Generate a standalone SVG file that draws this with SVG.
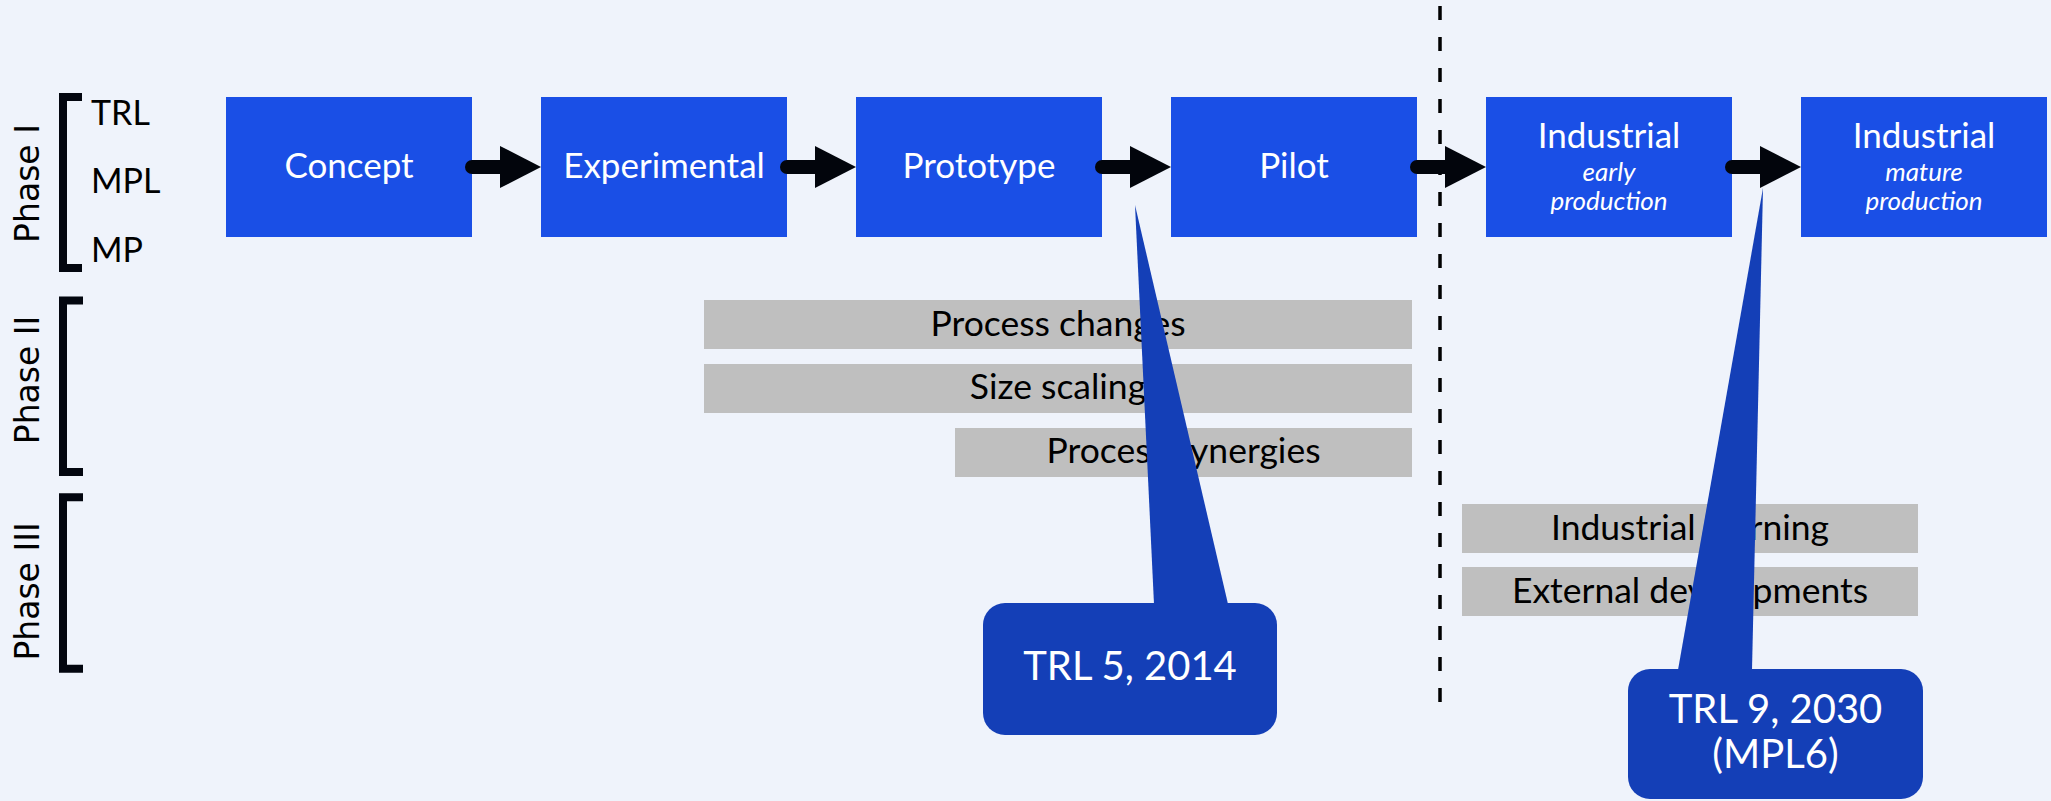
<svg xmlns="http://www.w3.org/2000/svg" width="2051" height="801" viewBox="0 0 2051 801">
  <defs>
    <style>
      .bg { fill: #eff3fb; }
      .step { fill: #1a4fe6; }
      .step-text { font-family: Lato, "Open Sans", sans-serif; font-size: 35px; fill: #ffffff; text-anchor: middle; }
      .step-sub { font-family: Lato, "Open Sans", sans-serif; font-size: 26px; font-style: italic; fill: #ffffff; text-anchor: middle; }
      .bar { fill: #bfbfbf; }
      .bar-text { font-family: Lato, "Open Sans", sans-serif; font-size: 35.5px; fill: #000000; text-anchor: middle; }
      .callout { fill: #143fb7; }
      .callout-text { font-family: Lato, "Open Sans", sans-serif; font-size: 40px; fill: #ffffff; text-anchor: middle; }
      .phase { font-family: "DejaVu Sans", Verdana, sans-serif; font-size: 33px; fill: #000000; text-anchor: middle; }
      .level { font-family: Lato, "Open Sans", sans-serif; font-size: 34px; fill: #000000; }
      .bracket { fill: none; stroke: #03060f; stroke-width: 8; }
      .shaft { stroke: #02050c; stroke-width: 14; stroke-linecap: round; }
      .head { fill: #02050c; }
      .divider { stroke: #000000; stroke-width: 3.5; stroke-dasharray: 14 17; }
    </style>
  </defs>

  <rect class="bg" x="0" y="0" width="2051" height="801"/>

  <!-- phase brackets and labels -->
  <g id="phase-1">
    <path class="bracket" d="M82,97 H63 V268 H82"/>
    <text class="phase" transform="translate(39,183.5) rotate(-90)">Phase I</text>
    <text class="level" x="91" y="125">TRL</text>
    <text class="level" x="91" y="193">MPL</text>
    <text class="level" x="91" y="262">MP</text>
  </g>
  <g id="phase-2">
    <path class="bracket" d="M83,300.5 H63 V472 H83"/>
    <text class="phase" transform="translate(39,380) rotate(-90)">Phase II</text>
  </g>
  <g id="phase-3">
    <path class="bracket" d="M83,497.3 H63 V668.7 H83"/>
    <text class="phase" transform="translate(39,591.5) rotate(-90)">Phase III</text>
  </g>

  <!-- dashed divider between pilot and industrial stages -->
  <line id="divider" class="divider" x1="1440" y1="6" x2="1440" y2="702"/>

  <!-- maturity stages -->
  <g id="concept">
    <rect class="step" x="226" y="97" width="246" height="140"/>
    <text class="step-text" x="349" y="178">Concept</text>
  </g>
  <g id="experimental">
    <rect class="step" x="541" y="97" width="246" height="140"/>
    <text class="step-text" x="664" y="178">Experimental</text>
  </g>
  <g id="prototype">
    <rect class="step" x="856" y="97" width="246" height="140"/>
    <text class="step-text" x="979" y="178">Prototype</text>
  </g>
  <g id="pilot">
    <rect class="step" x="1171" y="97" width="246" height="140"/>
    <text class="step-text" x="1294" y="178">Pilot</text>
  </g>
  <g id="industrial-early">
    <rect class="step" x="1486" y="97" width="246" height="140"/>
    <text class="step-text" x="1609" y="148">Industrial</text>
    <text class="step-sub" x="1609" y="181">early</text>
    <text class="step-sub" x="1609" y="210">production</text>
  </g>
  <g id="industrial-mature">
    <rect class="step" x="1801" y="97" width="246" height="140"/>
    <text class="step-text" x="1924" y="148">Industrial</text>
    <text class="step-sub" x="1924" y="181">mature</text>
    <text class="step-sub" x="1924" y="210">production</text>
  </g>

  <!-- stage-to-stage arrows -->
  <g id="connectors">
    <line class="shaft" x1="472" y1="167" x2="503" y2="167"/>
    <polygon class="head" points="500,146 541,167 500,188"/>
    <line class="shaft" x1="787" y1="167" x2="818" y2="167"/>
    <polygon class="head" points="815,146 856,167 815,188"/>
    <line class="shaft" x1="1102" y1="167" x2="1133" y2="167"/>
    <polygon class="head" points="1130,146 1171,167 1130,188"/>
    <line class="shaft" x1="1417" y1="167" x2="1448" y2="167"/>
    <polygon class="head" points="1445,146 1486,167 1445,188"/>
    <line class="shaft" x1="1732" y1="167" x2="1763" y2="167"/>
    <polygon class="head" points="1760,146 1801,167 1760,188"/>
  </g>

  <!-- cost-reduction drivers -->
  <g id="process-changes">
    <rect class="bar" x="704" y="300" width="708" height="49"/>
    <text class="bar-text" x="1058" y="336">Process changes</text>
  </g>
  <g id="size-scaling">
    <rect class="bar" x="704" y="364" width="708" height="49"/>
    <text class="bar-text" x="1058" y="399">Size scaling</text>
  </g>
  <g id="process-synergies">
    <rect class="bar" x="955" y="428" width="457" height="49"/>
    <text class="bar-text" x="1183.5" y="463">Process synergies</text>
  </g>
  <g id="industrial-learning">
    <rect class="bar" x="1462" y="504" width="456" height="49"/>
    <text class="bar-text" x="1690" y="540">Industrial learning</text>
  </g>
  <g id="external-developments">
    <rect class="bar" x="1462" y="567" width="456" height="49"/>
    <text class="bar-text" x="1690" y="603">External developments</text>
  </g>

  <!-- milestone callouts -->
  <g id="callout-trl5">
    <polygon class="callout" points="1135,205 1228,604 1154,604"/>
    <rect class="callout" x="983" y="603" width="294" height="132" rx="22" ry="22"/>
    <text class="callout-text" x="1130" y="680">TRL 5, 2014</text>
  </g>
  <g id="callout-trl9">
    <polygon class="callout" points="1763,188 1752,670 1678,670"/>
    <rect class="callout" x="1628" y="669" width="295" height="130" rx="22" ry="22"/>
    <text class="callout-text" x="1775.5" y="723">TRL 9, 2030</text>
    <text class="callout-text" x="1775.5" y="768">(MPL6)</text>
  </g>
</svg>
